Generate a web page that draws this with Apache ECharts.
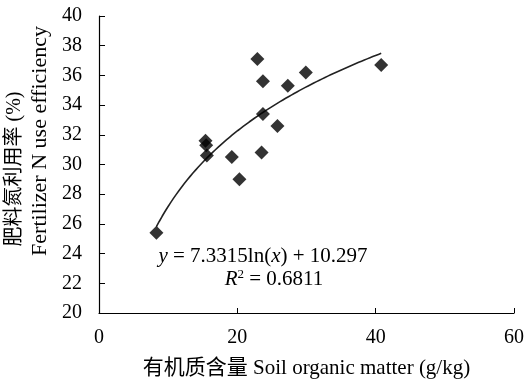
<!DOCTYPE html>
<html>
<head>
<meta charset="utf-8">
<script src="https://cdn.jsdelivr.net/npm/echarts@6/dist/echarts.min.js"></script>
<style>
  html, body { margin: 0; padding: 0; background: #fff; }
  #myCharts { width: 527px; height: 386px; }
</style>
</head>
<body>
<div id="myCharts"></div>
<script>
// 有机质含量 (g/kg)
const somData = [8.3, 15.4, 15.5, 15.6, 19.2, 20.3, 22.9, 23.7, 23.7, 23.5, 25.8, 27.3, 29.9, 40.8];
// 肥料氮利用率 (%)
const nueData = [25.4, 31.6, 31.3, 30.6, 30.5, 29.0, 37.1, 35.6, 33.4, 30.8, 32.6, 35.3, 36.2, 36.7];
// 趋势线 y = a ln(x) + b
const trendA = 7.3315;
const trendB = 10.297;
const xTicks = [0, 20, 40, 60];
const yTicks = [20, 22, 24, 26, 28, 30, 32, 34, 36, 38, 40];

const serif = "'Liberation Serif', 'Noto Sans CJK SC', serif";

const points = somData.map((x, i) => [x, nueData[i]]);
const xMin = Math.min(...somData);
const xMax = Math.max(...somData);
const trend = [];
for (let i = 0; i <= 80; i++) {
  const x = xMin + (xMax - xMin) * i / 80;
  trend.push([x, trendA * Math.log(x) + trendB]);
}

const myCharts = echarts.init(document.getElementById("myCharts"));
const options = {
  animation: false,
  grid: { left: 99, right: 13, top: 16, bottom: 73 },
  xAxis: {
    type: "value",
    min: xTicks[0],
    max: xTicks[xTicks.length - 1],
    interval: 20,
    axisLine: { lineStyle: { color: "#000", width: 1.2 } },
    axisTick: { inside: true, length: 5, lineStyle: { color: "#000" } },
    splitLine: { show: false },
    axisLabel: { color: "#000", fontFamily: serif, fontSize: 20, margin: 15 },
    name: "有机质含量 Soil organic matter (g/kg)",
    nameLocation: "middle",
    nameGap: 45,
    nameTextStyle: { color: "#000", fontFamily: serif, fontSize: 21 },
  },
  yAxis: {
    type: "value",
    min: yTicks[0],
    max: yTicks[yTicks.length - 1],
    interval: 2,
    axisLine: { show: true, lineStyle: { color: "#000", width: 1.2 } },
    axisTick: { show: true, inside: true, length: 6, lineStyle: { color: "#000" } },
    splitLine: { show: false },
    axisLabel: { color: "#000", fontFamily: serif, fontSize: 20, margin: 17 },
  },
  graphic: [
    {
      type: "text",
      x: 15, y: 169, rotation: Math.PI / 2,
      style: { text: "肥料氮利用率 (%)", font: "20px " + serif, fill: "#000", align: "center", verticalAlign: "middle" },
    },
    {
      type: "text",
      x: 40, y: 141, rotation: Math.PI / 2,
      style: { text: "Fertilizer N use efficiency", font: "22px " + serif, fill: "#000", align: "center", verticalAlign: "middle" },
    },
    {
      type: "text",
      x: 263, y: 256,
      style: {
        text: "{i|y} = 7.3315ln({i|x}) + 10.297",
        font: "21px " + serif, fill: "#000", align: "center", verticalAlign: "middle",
        rich: { i: { fontStyle: "italic", fontFamily: serif, fontSize: 21 } },
      },
    },
    {
      type: "text",
      x: 274, y: 279,
      style: {
        text: "{i|R}{s|2} = 0.6811",
        font: "21px " + serif, fill: "#000", align: "center", verticalAlign: "middle",
        rich: {
          i: { fontStyle: "italic", fontFamily: serif, fontSize: 21 },
          s: { fontFamily: serif, fontSize: 13, verticalAlign: "top", padding: [0, 0, 8, 0] },
        },
      },
    },
  ],
  series: [
    {
      name: "trend",
      type: "line",
      data: trend,
      showSymbol: false,
      smooth: false,
      lineStyle: { color: "#222", width: 1.6 },
      z: 1,
    },
    {
      name: "NUE",
      type: "scatter",
      data: points,
      symbol: "diamond",
      symbolSize: 14,
      itemStyle: { color: "#000" },
      z: 2,
    },
  ],
};
myCharts.setOption(options);
</script>
</body>
</html>
